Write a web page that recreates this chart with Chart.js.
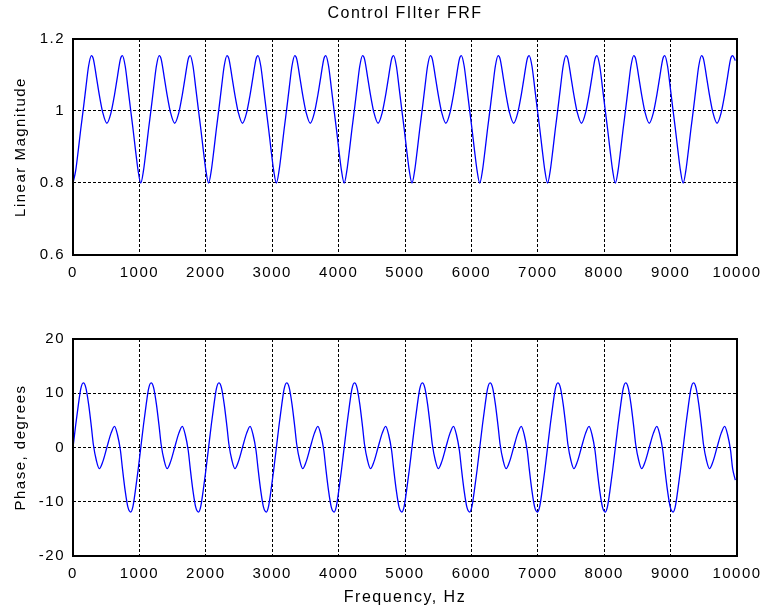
<!DOCTYPE html>
<html>
<head>
<meta charset="utf-8">
<title>Control FIlter FRF</title>
<script src="https://cdn.jsdelivr.net/npm/chart.js@4.4.1/dist/chart.umd.min.js"></script>
<style>
    html, body { margin: 0; padding: 0; background: #ffffff; }
    #wrap { position: relative; width: 763px; height: 612px; }
    #mag-chart { position: absolute; left: 0; top: 0; }
    #phase-chart { position: absolute; left: 0; top: 300px; }
</style>
</head>
<body>
<div id="wrap">
    <canvas id="mag-chart" width="763" height="300"></canvas>
    <canvas id="phase-chart" width="763" height="312"></canvas>
</div>
<script>
// ==================== DATA ====================

// frequency points, Hz (one row per period of the comb, ~1021 Hz)
const freqHz = [
    0, 41, 82, 117, 155, 194, 235, 277, 306, 352, 396, 449, 510, 572, 625, 669, 715, 744, 786, 827, 870, 904, 939, 980,
    1021, 1062, 1103, 1138, 1176, 1215, 1256, 1298, 1327, 1373, 1417, 1470, 1531, 1593, 1646, 1690, 1736, 1765, 1807, 1848, 1891, 1925, 1960, 2001,
    2042, 2083, 2124, 2159, 2197, 2236, 2277, 2319, 2348, 2394, 2438, 2491, 2552, 2614, 2667, 2711, 2757, 2786, 2828, 2869, 2912, 2946, 2981, 3022,
    3063, 3104, 3145, 3180, 3218, 3257, 3298, 3340, 3369, 3415, 3459, 3512, 3573, 3635, 3688, 3732, 3778, 3807, 3849, 3890, 3933, 3967, 4002, 4043,
    4084, 4125, 4166, 4201, 4239, 4278, 4319, 4361, 4390, 4436, 4480, 4533, 4594, 4656, 4709, 4753, 4799, 4828, 4870, 4911, 4954, 4988, 5023, 5064,
    5105, 5146, 5187, 5222, 5260, 5299, 5340, 5382, 5411, 5457, 5501, 5554, 5615, 5677, 5730, 5774, 5820, 5849, 5891, 5932, 5975, 6009, 6044, 6085,
    6126, 6167, 6208, 6243, 6281, 6320, 6361, 6403, 6432, 6478, 6522, 6575, 6636, 6698, 6751, 6795, 6841, 6870, 6912, 6953, 6996, 7030, 7065, 7106,
    7147, 7188, 7229, 7264, 7302, 7341, 7382, 7424, 7453, 7499, 7543, 7596, 7657, 7719, 7772, 7816, 7862, 7891, 7933, 7974, 8017, 8051, 8086, 8127,
    8168, 8209, 8250, 8285, 8323, 8362, 8403, 8445, 8474, 8520, 8564, 8617, 8678, 8740, 8793, 8837, 8883, 8912, 8954, 8995, 9038, 9072, 9107, 9148,
    9189, 9230, 9271, 9306, 9344, 9383, 9424, 9466, 9495, 9541, 9585, 9638, 9699, 9761, 9814, 9858, 9904, 9933, 9975
];

// linear magnitude
const magnitude = [
    0.800, 0.835, 0.895, 0.950, 1.005, 1.065, 1.125, 1.154, 1.145, 1.095, 1.045, 0.995, 0.966, 0.995, 1.045, 1.095, 1.145, 1.154, 1.125, 1.065, 1.000, 0.950, 0.895, 0.835,
    0.800, 0.835, 0.895, 0.950, 1.005, 1.065, 1.125, 1.154, 1.145, 1.095, 1.045, 0.995, 0.966, 0.995, 1.045, 1.095, 1.145, 1.154, 1.125, 1.065, 1.000, 0.950, 0.895, 0.835,
    0.800, 0.835, 0.895, 0.950, 1.005, 1.065, 1.125, 1.154, 1.145, 1.095, 1.045, 0.995, 0.966, 0.995, 1.045, 1.095, 1.145, 1.154, 1.125, 1.065, 1.000, 0.950, 0.895, 0.835,
    0.800, 0.835, 0.895, 0.950, 1.005, 1.065, 1.125, 1.154, 1.145, 1.095, 1.045, 0.995, 0.966, 0.995, 1.045, 1.095, 1.145, 1.154, 1.125, 1.065, 1.000, 0.950, 0.895, 0.835,
    0.800, 0.835, 0.895, 0.950, 1.005, 1.065, 1.125, 1.154, 1.145, 1.095, 1.045, 0.995, 0.966, 0.995, 1.045, 1.095, 1.145, 1.154, 1.125, 1.065, 1.000, 0.950, 0.895, 0.835,
    0.800, 0.835, 0.895, 0.950, 1.005, 1.065, 1.125, 1.154, 1.145, 1.095, 1.045, 0.995, 0.966, 0.995, 1.045, 1.095, 1.145, 1.154, 1.125, 1.065, 1.000, 0.950, 0.895, 0.835,
    0.800, 0.835, 0.895, 0.950, 1.005, 1.065, 1.125, 1.154, 1.145, 1.095, 1.045, 0.995, 0.966, 0.995, 1.045, 1.095, 1.145, 1.154, 1.125, 1.065, 1.000, 0.950, 0.895, 0.835,
    0.800, 0.835, 0.895, 0.950, 1.005, 1.065, 1.125, 1.154, 1.145, 1.095, 1.045, 0.995, 0.966, 0.995, 1.045, 1.095, 1.145, 1.154, 1.125, 1.065, 1.000, 0.950, 0.895, 0.835,
    0.800, 0.835, 0.895, 0.950, 1.005, 1.065, 1.125, 1.154, 1.145, 1.095, 1.045, 0.995, 0.966, 0.995, 1.045, 1.095, 1.145, 1.154, 1.125, 1.065, 1.000, 0.950, 0.895, 0.835,
    0.800, 0.835, 0.895, 0.950, 1.005, 1.065, 1.125, 1.154, 1.145, 1.095, 1.045, 0.995, 0.966, 0.995, 1.045, 1.095, 1.145, 1.154, 1.140
];

// phase, degrees
const phaseDeg = [
    0, 4.2, 8.0, 10.8, 11.9, 11.0, 8.0, 3.8, 0.6, -2.4, -3.9, -2.6, 0, 2.6, 3.9, 2.4, -0.6, -3.8, -8.0, -11.0, -11.9, -10.8, -8.0, -4.2,
    0, 4.2, 8.0, 10.8, 11.9, 11.0, 8.0, 3.8, 0.6, -2.4, -3.9, -2.6, 0, 2.6, 3.9, 2.4, -0.6, -3.8, -8.0, -11.0, -11.9, -10.8, -8.0, -4.2,
    0, 4.2, 8.0, 10.8, 11.9, 11.0, 8.0, 3.8, 0.6, -2.4, -3.9, -2.6, 0, 2.6, 3.9, 2.4, -0.6, -3.8, -8.0, -11.0, -11.9, -10.8, -8.0, -4.2,
    0, 4.2, 8.0, 10.8, 11.9, 11.0, 8.0, 3.8, 0.6, -2.4, -3.9, -2.6, 0, 2.6, 3.9, 2.4, -0.6, -3.8, -8.0, -11.0, -11.9, -10.8, -8.0, -4.2,
    0, 4.2, 8.0, 10.8, 11.9, 11.0, 8.0, 3.8, 0.6, -2.4, -3.9, -2.6, 0, 2.6, 3.9, 2.4, -0.6, -3.8, -8.0, -11.0, -11.9, -10.8, -8.0, -4.2,
    0, 4.2, 8.0, 10.8, 11.9, 11.0, 8.0, 3.8, 0.6, -2.4, -3.9, -2.6, 0, 2.6, 3.9, 2.4, -0.6, -3.8, -8.0, -11.0, -11.9, -10.8, -8.0, -4.2,
    0, 4.2, 8.0, 10.8, 11.9, 11.0, 8.0, 3.8, 0.6, -2.4, -3.9, -2.6, 0, 2.6, 3.9, 2.4, -0.6, -3.8, -8.0, -11.0, -11.9, -10.8, -8.0, -4.2,
    0, 4.2, 8.0, 10.8, 11.9, 11.0, 8.0, 3.8, 0.6, -2.4, -3.9, -2.6, 0, 2.6, 3.9, 2.4, -0.6, -3.8, -8.0, -11.0, -11.9, -10.8, -8.0, -4.2,
    0, 4.2, 8.0, 10.8, 11.9, 11.0, 8.0, 3.8, 0.6, -2.4, -3.9, -2.6, 0, 2.6, 3.9, 2.4, -0.6, -3.8, -8.0, -11.0, -11.9, -10.8, -8.0, -4.2,
    0, 4.2, 8.0, 10.8, 11.9, 11.0, 8.0, 3.8, 0.6, -2.4, -3.9, -2.6, 0, 2.6, 3.9, 2.4, -0.6, -3.8, -6.0
];

const freqTicks = [0, 1000, 2000, 3000, 4000, 5000, 6000, 7000, 8000, 9000, 10000];
const magTicks = [0.6, 0.8, 1, 1.2];
const phaseTicks = [-20, -10, 0, 10, 20];

// ==================== STYLE ====================

const FONT = "'Liberation Sans', Arial, Helvetica, sans-serif";
const tickFont = { family: FONT, size: 15 };
const labelFont = { family: FONT, size: 15 };

// MATLAB look: letter spacing + closed black box round the axes
const matlabBox = {
    id: 'matlabBox',
    beforeLayout(chart) { chart.ctx.letterSpacing = '1.5px'; },
    beforeDraw(chart) { chart.ctx.letterSpacing = '1.5px'; },
    afterDraw(chart) {
        const { ctx, chartArea: a } = chart;
        ctx.save();
        ctx.strokeStyle = '#000';
        ctx.lineWidth = 2;
        ctx.strokeRect(a.left, a.top, a.right - a.left, a.bottom - a.top);
        ctx.restore();
    }
};

function freqAxis(showTitle, height) {
    return {
        type: 'linear',
        min: 0,
        max: 10000,
        afterBuildTicks: s => { s.ticks = freqTicks.map(v => ({ value: v })); },
        afterFit: s => {
            // fixed box: keep the edge labels from squeezing the plot
            s.height = height;
            s.paddingLeft = 0;
            s.paddingRight = 0;
        },
        ticks: {
            autoSkip: false,
            maxRotation: 0,
            color: '#000',
            padding: 9,
            font: tickFont,
            callback: v => String(v)
        },
        grid: { color: '#000', lineWidth: 1, drawTicks: false },
        border: { display: false, dash: [3, 2] },
        title: {
            display: showTitle,
            text: 'Frequency, Hz',
            color: '#000',
            font: { family: FONT, size: 16 },
            padding: { top: 0, bottom: 5 }
        }
    };
}

function valueAxis(min, max, tickValues, titleText) {
    return {
        type: 'linear',
        min,
        max,
        afterBuildTicks: s => { s.ticks = tickValues.map(v => ({ value: v })); },
        afterFit: s => { s.width = 73; },
        ticks: {
            color: '#000',
            padding: 8,
            font: tickFont,
            callback: v => String(v)
        },
        grid: { color: '#000', lineWidth: 1, drawTicks: false },
        border: { display: false, dash: [3, 2] },
        title: {
            display: true,
            text: titleText,
            color: '#000',
            font: labelFont,
            padding: { top: 12, bottom: 0 }
        }
    };
}

function lineData(values) {
    return {
        datasets: [{
            data: freqHz.map((f, i) => ({ x: f, y: values[i] })),
            borderColor: '#0000ff',
            borderWidth: 1.3,
            pointRadius: 0,
            fill: false,
            cubicInterpolationMode: 'monotone'
        }]
    };
}

// ==================== CHARTS ====================

const magChart = new Chart(document.getElementById('mag-chart').getContext('2d'), {
    type: 'line',
    data: lineData(magnitude),
    plugins: [matlabBox],
    options: {
        responsive: false,
        animation: false,
        layout: { padding: { top: 0, right: 26, bottom: 0, left: 0 } },
        plugins: {
            legend: { display: false },
            tooltip: { enabled: false },
            title: {
                display: true,
                text: 'Control FIlter FRF',
                fullSize: false,
                color: '#000',
                font: { family: FONT, size: 16, weight: 'normal' },
                padding: { top: 4, bottom: 15.8 }
            }
        },
        scales: {
            x: freqAxis(false, 45),
            y: valueAxis(0.6, 1.2, magTicks, 'Linear Magnitude')
        }
    }
});

const phaseChart = new Chart(document.getElementById('phase-chart').getContext('2d'), {
    type: 'line',
    data: lineData(phaseDeg),
    plugins: [matlabBox],
    options: {
        responsive: false,
        animation: false,
        layout: { padding: { top: 39, right: 26, bottom: 0, left: 0 } },
        plugins: {
            legend: { display: false },
            tooltip: { enabled: false }
        },
        scales: {
            x: freqAxis(true, 56),
            y: valueAxis(-20, 20, phaseTicks, 'Phase, degrees')
        }
    }
});
</script>
</body>
</html>
